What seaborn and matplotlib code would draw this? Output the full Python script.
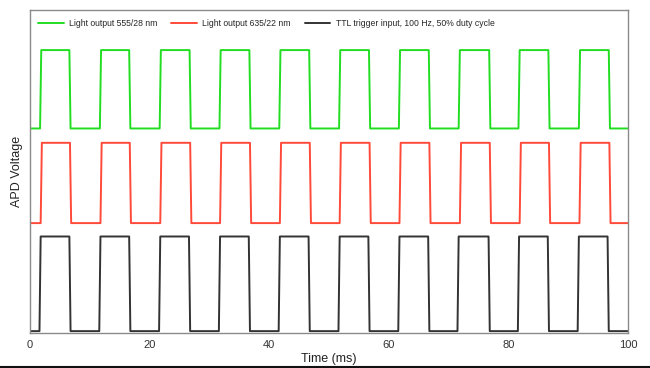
import numpy as np
import pandas as pd
import matplotlib.pyplot as plt
import seaborn as sns
from matplotlib.lines import Line2D

# edge times (ms)
green_rise = [1.7, 11.7, 21.7, 31.7, 41.7, 51.7, 61.7, 71.7, 81.7, 91.8]
green_fall = [6.6, 16.6, 26.7, 36.7, 46.7, 56.7, 66.7, 76.8, 86.7, 96.8]
red_rise = [1.8, 11.8, 21.8, 31.8, 41.8, 51.8, 61.8, 71.9, 81.9, 91.9]
red_fall = [6.7, 16.7, 26.8, 36.8, 46.8, 56.8, 66.8, 76.9, 86.8, 96.9]
ttl_rise = [1.6, 11.6, 21.6, 31.6, 41.6, 51.6, 61.6, 71.5, 81.6, 91.6]
ttl_fall = [6.6, 16.6, 26.6, 36.6, 46.6, 56.6, 66.6, 76.7, 86.6, 96.6]

# low / high levels (arbitrary APD units)
green_levels = (2.12, 2.94)
red_levels = (1.13, 1.97)
ttl_levels = (0.0, 0.99)

names = ['Light output 555/28 nm', 'Light output 635/22 nm',
         'TTL trigger input, 100 Hz, 50% duty cycle']
colors = ['#22dd22', '#ff4a3a', '#333333']


def square(rise, fall, levels, ramp=0.2):
    lo, hi = levels
    xs, ys = [0.0], [lo]
    for r, f in zip(rise, fall):
        xs += [r, r + ramp, f, f + ramp]
        ys += [lo, hi, hi, lo]
    xs.append(100.0)
    ys.append(lo)
    return xs, ys


frames = []
for name, (r, f, lv) in zip(names, [(green_rise, green_fall, green_levels),
                                    (red_rise, red_fall, red_levels),
                                    (ttl_rise, ttl_fall, ttl_levels)]):
    xs, ys = square(r, f, lv)
    frames.append(pd.DataFrame({'time': xs, 'voltage': ys, 'signal': name}))
df = pd.concat(frames, ignore_index=True)

sns.set_style('white')
plt.rcParams['font.family'] = ['Liberation Sans', 'DejaVu Sans']

fig = plt.figure(figsize=(6.5, 3.68), dpi=100)
ax = fig.add_axes([0.046, 0.095, 0.92, 0.878])
sns.lineplot(data=df, x='time', y='voltage', hue='signal', palette=colors,
             estimator=None, sort=False, linewidth=1.4, ax=ax)

ax.set_xlim(0, 100)
ax.set_ylim(-0.02, 3.36)
ax.set_xticks([0, 20, 40, 60, 80, 100])
ax.set_yticks([])
ax.tick_params(axis='x', labelsize=8, length=0, pad=5, colors='#333333')
ax.set_xlabel('Time (ms)', fontsize=9, labelpad=2, color='#222222')
ax.set_ylabel('APD Voltage', fontsize=9, labelpad=5, color='#222222')
for s in ax.spines.values():
    s.set_color('#8a8a8a')
    s.set_linewidth(1.0)

ax.legend(loc='upper left', ncol=3, frameon=False, fontsize=6.2,
          handlelength=3.0, handletextpad=0.6, columnspacing=1.6,
          borderaxespad=0, bbox_to_anchor=(0.008, 0.982))

# thin dark edge along the bottom of the screenshot
fig.add_artist(Line2D([0, 1], [0.003, 0.003], transform=fig.transFigure,
                      color='#111111', linewidth=1.5))

fig.savefig('out.png', dpi=100)
